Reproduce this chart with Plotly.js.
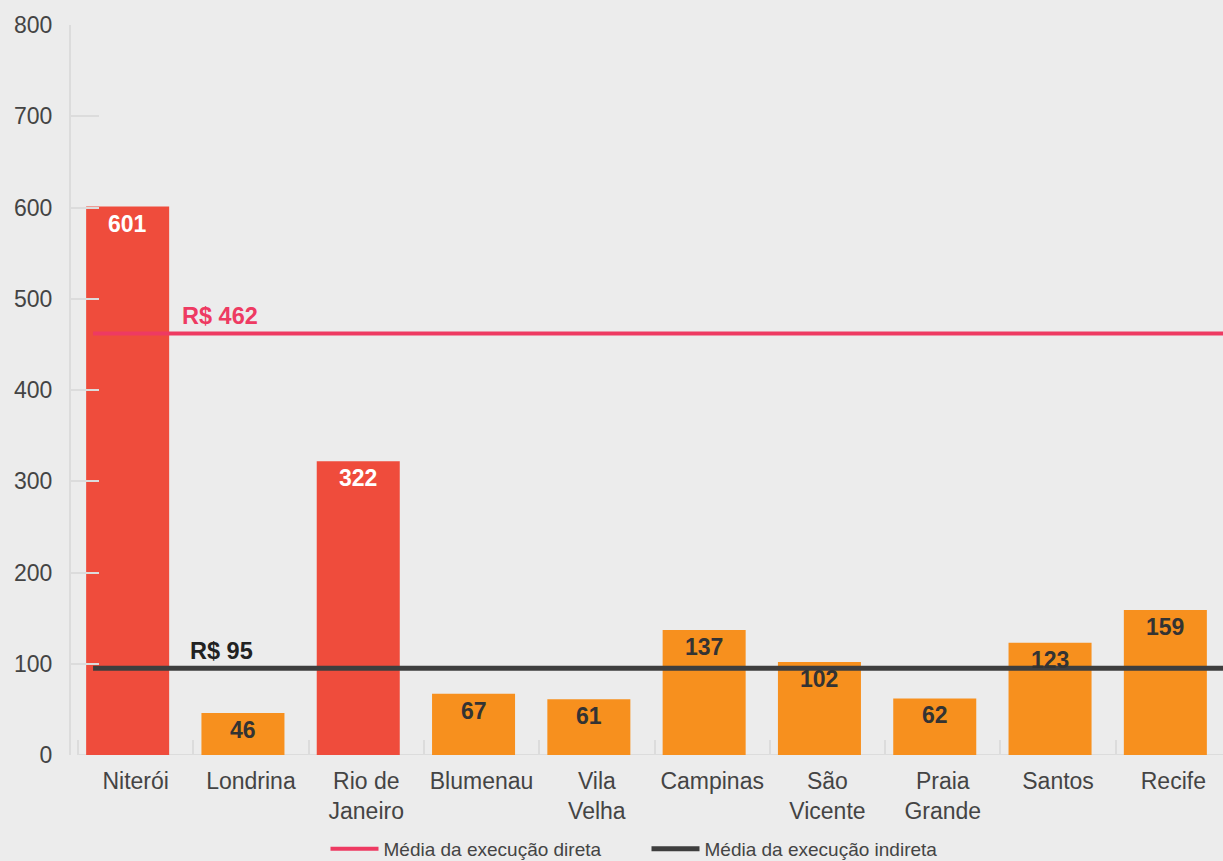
<!DOCTYPE html>
<html>
<head>
<meta charset="utf-8">
<script src="https://cdn.plot.ly/plotly-3.0.1.min.js"></script>
<style>html,body{margin:0;padding:0;background:#ececec;}#chart{width:1223px;height:861px;}</style>
</head>
<body>
<div id="chart"></div>
<script>
const cities = ["Niterói", "Londrina", "Rio de<br>Janeiro", "Blumenau", "Vila<br>Velha", "Campinas", "São<br>Vicente", "Praia<br>Grande", "Santos", "Recife"];
const values = [601, 46, 322, 67, 61, 137, 102, 62, 123, 159];
const execType = ["direta", "indireta", "direta", "indireta", "indireta", "indireta", "indireta", "indireta", "indireta", "indireta"];
const avgDireta = 462;
const avgIndireta = 95;
const yTicks = [0, 100, 200, 300, 400, 500, 600, 700, 800];

const RED = "#EF4C3C", ORANGE = "#F7901E", PINK = "#EE3A62", DARK = "#3E3E3E";
const font = "Liberation Sans, Arial, Helvetica, sans-serif";

const barColors = execType.map(t => t === "direta" ? RED : ORANGE);
const txtColors = execType.map(t => t === "direta" ? "#ffffff" : "#333333");

// axis is offset 8px to the right of the plot area (labels and boundary ticks)
const catW = 1153 / cities.length;
const off = 8 / catW;
const idx = cities.map((c, i) => i);
const boundaryTicks = idx.map(i => i - 0.5 + off);
const labelTicks = idx.map(i => i + off);

const bars = {
  type: "bar", x: cities, y: values, marker: {color: barColors, line: {width: 0}},
  showlegend: false, hoverinfo: "x+y"
};
const lineX = [-0.3, 9.5];
const lineD = {
  type: "scatter", mode: "lines", xaxis: "x2", x: lineX, y: [avgDireta, avgDireta],
  line: {color: PINK, width: 4}, name: "Média da execução direta"
};
const lineI = {
  type: "scatter", mode: "lines", xaxis: "x2", x: lineX, y: [avgIndireta, avgIndireta],
  line: {color: DARK, width: 5}, name: "Média da execução indireta"
};

const annotations = values.map((v, i) => ({
  x: cities[i], y: v, xref: "x", yref: "y", text: "<b>" + v + "</b>",
  showarrow: false, yanchor: "top", yshift: -2,
  font: {family: font, size: 23, color: txtColors[i]}
}));
annotations.push({
  x: -0.5, y: avgDireta, xref: "x2", yref: "y", text: "<b>R$ " + avgDireta + "</b>",
  showarrow: false, xanchor: "left", yanchor: "bottom", xshift: 110, yshift: 2,
  font: {family: font, size: 23.5, color: PINK}
});
annotations.push({
  x: -0.5, y: avgIndireta, xref: "x2", yref: "y", text: "<b>R$ " + avgIndireta + "</b>",
  showarrow: false, xanchor: "left", yanchor: "bottom", xshift: 118, yshift: 2,
  font: {family: font, size: 23.5, color: "#222222"}
});

const shapes = [{
  type: "line", xref: "paper", yref: "y", x0: off / cities.length, x1: 1, y0: 0, y1: 0,
  line: {color: "#dcdcdc", width: 2}, layer: "below"
}];

const layout = {
  width: 1223, height: 861,
  paper_bgcolor: "#ececec", plot_bgcolor: "#ececec",
  margin: {l: 70, r: 0, t: 25, b: 106, autoexpand: false},
  font: {family: font, color: "#444444", size: 23},
  bargap: 0.28,
  xaxis: {
    type: "category", domain: [0, 1], range: [-0.5, 9.5],
    showline: false, ticks: "", showticklabels: false,
    showgrid: false, zeroline: false, fixedrange: true
  },
  xaxis2: {
    overlaying: "x", anchor: "y", side: "bottom", type: "linear", range: [-0.5, 9.5],
    showline: false, tickmode: "array", tickvals: labelTicks, ticktext: cities,
    ticks: "", ticklabelstandoff: 10,
    tickfont: {family: font, size: 23, color: "#444444"},
    showgrid: false, zeroline: false, fixedrange: true
  },
  xaxis3: {
    overlaying: "x", anchor: "y", side: "bottom", type: "linear", range: [-0.5, 9.5],
    showline: false, tickmode: "array", tickvals: boundaryTicks, showticklabels: false,
    ticks: "inside", ticklen: 15, tickcolor: "#dcdcdc", tickwidth: 2,
    showgrid: false, zeroline: false, fixedrange: true
  },
  yaxis: {
    range: [0, 800], tickvals: yTicks, ticktext: yTicks.map(String),
    anchor: "free", position: 0,
    showline: true, linecolor: "#dcdcdc", linewidth: 2,
    ticks: "inside", ticklen: 28, tickcolor: "#dcdcdc", tickwidth: 2,
    showgrid: false, zeroline: false, ticklabelstandoff: 12,
    tickfont: {family: font, size: 23, color: "#444444"}, fixedrange: true
  },
  legend: {
    orientation: "h", x: 0.5, xanchor: "center", xref: "paper",
    y: -0.1288, yanchor: "middle", font: {family: font, size: 19, color: "#444444"},
    bgcolor: "rgba(0,0,0,0)", itemwidth: 48, entrywidth: 258
  },
  shapes: shapes,
  annotations: annotations
};

const dummy = {type: "scatter", xaxis: "x3", x: [0], y: [0], mode: "none", showlegend: false, hoverinfo: "skip"};

Plotly.newPlot("chart", [bars, lineD, lineI, dummy], layout, {displayModeBar: false, staticPlot: true});
</script>
</body>
</html>
